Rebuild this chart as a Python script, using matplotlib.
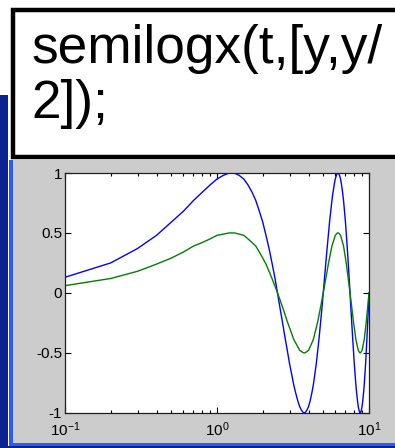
import matplotlib
matplotlib.use("Agg")
import matplotlib.pyplot as plt
from matplotlib.patches import Rectangle
from matplotlib.ticker import FixedLocator, FixedFormatter, NullFormatter

plt.rcParams['font.family'] = ['Liberation Sans', 'DejaVu Sans']
plt.rcParams['mathtext.fontset'] = 'custom'
plt.rcParams['mathtext.rm'] = 'Liberation Sans'
plt.rcParams['mathtext.it'] = 'Liberation Sans:italic'
plt.rcParams['axes.unicode_minus'] = False

# ---- data ----
t = [0.1, 0.2, 0.3, 0.4, 0.5, 0.6, 0.7, 0.8, 0.9, 1.0,
     1.1, 1.2, 1.3, 1.4, 1.5, 1.6, 1.7, 1.8, 1.9, 2.0,
     2.1, 2.2, 2.3, 2.4, 2.5, 2.6, 2.7, 2.8, 2.9, 3.0,
     3.1, 3.2, 3.3, 3.4, 3.5, 3.6, 3.7, 3.8, 3.9, 4.0,
     4.1, 4.2, 4.3, 4.4, 4.5, 4.6, 4.7, 4.8, 4.9, 5.0,
     5.1, 5.2, 5.3, 5.4, 5.5, 5.6, 5.7, 5.8, 5.9, 6.0,
     6.1, 6.2, 6.3, 6.4, 6.5, 6.6, 6.7, 6.8, 6.9, 7.0,
     7.1, 7.2, 7.3, 7.4, 7.5, 7.6, 7.7, 7.8, 7.9, 8.0,
     8.1, 8.2, 8.3, 8.4, 8.5, 8.6, 8.7, 8.8, 8.9, 9.0,
     9.1, 9.2, 9.3, 9.4, 9.5, 9.6, 9.7, 9.8, 9.9, 10.0]

y = [0.13, 0.25, 0.37, 0.48, 0.59, 0.68, 0.77, 0.84, 0.90, 0.95,
     0.98, 1.00, 1.00, 0.98, 0.95, 0.90, 0.84, 0.77, 0.68, 0.59,
     0.48, 0.37, 0.25, 0.13, 0.00, -0.13, -0.25, -0.37, -0.48, -0.59,
     -0.68, -0.77, -0.84, -0.90, -0.95, -0.98, -1.00, -1.00, -0.98, -0.95,
     -0.90, -0.84, -0.77, -0.68, -0.59, -0.48, -0.37, -0.25, -0.13, 0.00,
     0.13, 0.25, 0.37, 0.48, 0.59, 0.68, 0.77, 0.84, 0.90, 0.95,
     0.98, 1.00, 1.00, 0.98, 0.95, 0.90, 0.84, 0.77, 0.68, 0.59,
     0.48, 0.37, 0.25, 0.13, 0.00, -0.13, -0.25, -0.37, -0.48, -0.59,
     -0.68, -0.77, -0.84, -0.90, -0.95, -0.98, -1.00, -1.00, -0.98, -0.95,
     -0.90, -0.84, -0.77, -0.68, -0.59, -0.48, -0.37, -0.25, -0.13, 0.00]

y_half = [0.06, 0.12, 0.18, 0.24, 0.29, 0.34, 0.39, 0.42, 0.45, 0.48,
          0.49, 0.50, 0.50, 0.49, 0.48, 0.45, 0.42, 0.39, 0.34, 0.29,
          0.24, 0.18, 0.12, 0.06, 0.00, -0.06, -0.12, -0.18, -0.24, -0.29,
          -0.34, -0.39, -0.42, -0.45, -0.48, -0.49, -0.50, -0.50, -0.49, -0.48,
          -0.45, -0.42, -0.39, -0.34, -0.29, -0.24, -0.18, -0.12, -0.06, 0.00,
          0.06, 0.12, 0.18, 0.24, 0.29, 0.34, 0.39, 0.42, 0.45, 0.48,
          0.49, 0.50, 0.50, 0.49, 0.48, 0.45, 0.42, 0.39, 0.34, 0.29,
          0.24, 0.18, 0.12, 0.06, 0.00, -0.06, -0.12, -0.18, -0.24, -0.29,
          -0.34, -0.39, -0.42, -0.45, -0.48, -0.49, -0.50, -0.50, -0.49, -0.48,
          -0.45, -0.42, -0.39, -0.34, -0.29, -0.24, -0.18, -0.12, -0.06, 0.00]

yticks = [-1, -0.5, 0, 0.5, 1]
ytick_labels = ['-1', '-0.5', '0', '0.5', '1']
xticks = [0.1, 1, 10]
xtick_labels = [r'$\mathregular{10^{-1}}$', r'$\mathregular{10^{0}}$', r'$\mathregular{10^{1}}$']
code_lines = ['semilogx(t,[y,y/', '2]);']

W, H = 395, 448
fig = plt.figure(figsize=(W / 100, H / 100), dpi=100)
fig.patch.set_facecolor('white')

# background decorations in pixel coordinates
bg = fig.add_axes([0, 0, 1, 1])
bg.set_xlim(0, W)
bg.set_ylim(H, 0)
bg.axis('off')
bg.set_zorder(0)

# window frame (blue) and gray figure area
bg.add_patch(Rectangle((0, 95), 8, H - 95, facecolor='#0b2390', edgecolor='none'))
bg.add_patch(Rectangle((9, 160), 3.5, 285, facecolor='#2a5cf5', edgecolor='none'))
bg.add_patch(Rectangle((12.5, 160), W - 12.5, 283, facecolor='#cccccc', edgecolor='none'))
bg.add_patch(Rectangle((9, 443), W - 9, 3, facecolor='#2a5cf5', edgecolor='none'))
bg.add_patch(Rectangle((0, 446), W, 2, facecolor='#0b2390', edgecolor='none'))

# white text box with thick black border
bg.add_patch(Rectangle((13, 10.5), W + 20, 147, facecolor='white',
                       edgecolor='black', linewidth=3.2))

bg.text(31, 63, code_lines[0], fontsize=38.3, family='Liberation Sans',
        va='baseline', ha='left', color='black')
bg.text(31, 118, code_lines[1], fontsize=38.3, family='Liberation Sans',
        va='baseline', ha='left', color='black')

# main axes
ax = fig.add_axes([65 / W, 1 - 412.7 / H, (369 - 65) / W, (412.7 - 173) / H])
ax.set_zorder(2)
ax.set_facecolor('white')
ax.semilogx(t, y, color='#0000ff', linewidth=1.0)
ax.semilogx(t, y_half, color='#008000', linewidth=1.0)
ax.set_xlim(0.1, 10)
ax.set_ylim(-1, 1)

ax.yaxis.set_major_locator(FixedLocator(yticks))
ax.yaxis.set_major_formatter(FixedFormatter(ytick_labels))
ax.xaxis.set_major_locator(FixedLocator(xticks))
ax.xaxis.set_major_formatter(FixedFormatter(xtick_labels))
ax.xaxis.set_minor_formatter(NullFormatter())

ax.tick_params(which='both', direction='in', top=True, right=True,
               labelsize=11, color='black', width=0.8)
ax.tick_params(which='major', length=4, pad=2)
ax.tick_params(which='minor', length=2.5)
ax.tick_params(axis='x', which='major', pad=5.5)
for s in ax.spines.values():
    s.set_linewidth(0.9)
    s.set_color('#202020')

fig.savefig('out.png', dpi=100, facecolor='white')
